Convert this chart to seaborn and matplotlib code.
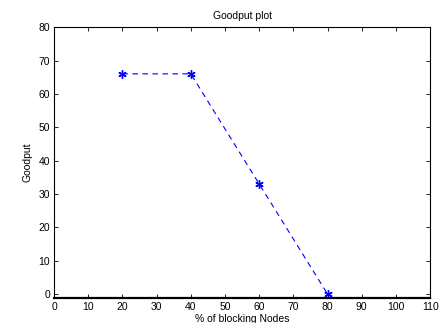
import pandas as pd
import seaborn as sns
import matplotlib
matplotlib.use('Agg')
import matplotlib.pyplot as plt

blocking = [20, 40, 60, 80]
goodput = [66, 66, 33, 0]
xticks = [0, 10, 20, 30, 40, 50, 60, 70, 80, 90, 100, 110]
yticks = [0, 10, 20, 30, 40, 50, 60, 70, 80]

df = pd.DataFrame({'blocking': blocking, 'goodput': goodput})

sns.set_style('ticks')
plt.rcParams['font.family'] = ['Liberation Sans', 'DejaVu Sans']
plt.rcParams['text.color'] = 'black'
plt.rcParams['xtick.color'] = 'black'
plt.rcParams['ytick.color'] = 'black'
plt.rcParams['axes.labelcolor'] = 'black'
plt.rcParams['axes.edgecolor'] = 'black'

fig = plt.figure(figsize=(4.43, 3.23), dpi=100)
ax = fig.add_axes([0.122, 0.077, 0.849, 0.839])

sns.lineplot(x='blocking', y='goodput', data=df, ax=ax, color='blue',
             linewidth=0.8, marker=(6, 2, 0), markersize=6,
             markeredgecolor='blue', markeredgewidth=1.0)
ax.lines[0].set_dashes([5, 4])

ax.set_xlim(0, 110)
ax.set_ylim(-1.2, 80)
ax.set_xticks(xticks)
ax.set_yticks(yticks)
ax.tick_params(direction='in', top=True, right=True, labelsize=7.5,
               length=3, width=0.6, pad=3)
for s in ax.spines.values():
    s.set_linewidth(0.8)
ax.spines['bottom'].set_linewidth(1.6)
ax.set_title('Goodput plot', fontsize=7.5, pad=6)
ax.set_xlabel('% of blocking Nodes', fontsize=7.5, labelpad=1)
ax.set_ylabel('Goodput', fontsize=7.5, labelpad=4)

fig.savefig('out.png', dpi=100)
